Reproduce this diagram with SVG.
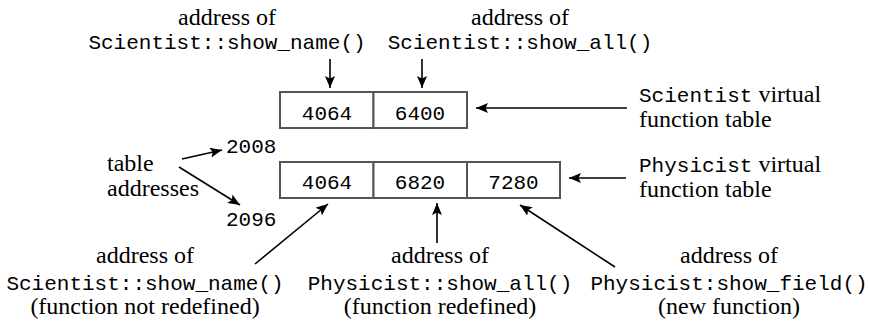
<svg xmlns="http://www.w3.org/2000/svg" width="869" height="322" viewBox="0 0 869 322">
  <style>
    .serif { font-family: "Liberation Serif", "Times New Roman", serif; font-size: 24px; fill: #000; }
    .mono { font-family: "Liberation Mono", "Courier New", monospace; font-size: 21px; fill: #000; }
    .mid { text-anchor: middle; }
    .cell { fill: #fff; stroke: #555; stroke-width: 2; }
    .conn { stroke: #000; stroke-width: 1.6; fill: none; marker-end: url(#arrow); }
  </style>
  <defs>
    <marker id="arrow" viewBox="0 0 12 10" refX="12" refY="5" markerWidth="12" markerHeight="10" markerUnits="userSpaceOnUse" orient="auto">
      <path d="M0,0 L12,5 L0,10 L2.5,5 z" fill="#000"/>
    </marker>
  </defs>

  <g id="label-sci-show-name-top">
    <text class="serif mid" x="227" y="25">address of</text>
    <text class="mono mid" x="227" y="49">Scientist::show_name()</text>
  </g>
  <g id="label-sci-show-all-top">
    <text class="serif mid" x="520" y="25">address of</text>
    <text class="mono mid" x="520" y="49">Scientist::show_all()</text>
  </g>

  <g id="table-scientist">
    <rect class="cell" x="280" y="92" width="93.5" height="36"/>
    <rect class="cell" x="373.5" y="92" width="93.5" height="36"/>
    <text class="mono mid" x="327" y="120">4064</text>
    <text class="mono mid" x="420" y="120">6400</text>
  </g>

  <g id="label-scientist-vtable">
    <text x="639" y="102"><tspan class="mono">Scientist</tspan><tspan class="serif"> virtual</tspan></text>
    <text class="serif" x="639" y="127">function table</text>
  </g>

  <g id="label-table-addresses">
    <text class="serif" x="107" y="171">table</text>
    <text class="serif" x="107" y="196">addresses</text>
  </g>
  <g id="addr-2008">
    <text class="mono" x="226" y="153">2008</text>
  </g>
  <g id="addr-2096">
    <text class="mono" x="226" y="226">2096</text>
  </g>

  <g id="table-physicist">
    <rect class="cell" x="280" y="162" width="93.5" height="36"/>
    <rect class="cell" x="373.5" y="162" width="93.5" height="36"/>
    <rect class="cell" x="467" y="162" width="93" height="36"/>
    <text class="mono mid" x="327" y="189">4064</text>
    <text class="mono mid" x="420" y="189">6820</text>
    <text class="mono mid" x="513.5" y="189">7280</text>
  </g>

  <g id="label-physicist-vtable">
    <text x="639" y="172"><tspan class="mono">Physicist</tspan><tspan class="serif"> virtual</tspan></text>
    <text class="serif" x="639" y="197">function table</text>
  </g>

  <g id="label-sci-show-name-bottom">
    <text class="serif mid" x="145" y="263">address of</text>
    <text class="mono mid" x="145" y="290">Scientist::show_name()</text>
    <text class="serif mid" x="145" y="314">(function not redefined)</text>
  </g>
  <g id="label-phy-show-all">
    <text class="serif mid" x="440" y="263">address of</text>
    <text class="mono mid" x="440" y="290">Physicist::show_all()</text>
    <text class="serif mid" x="440" y="314">(function redefined)</text>
  </g>
  <g id="label-phy-show-field">
    <text class="serif mid" x="729" y="263">address of</text>
    <text class="mono mid" x="729" y="290">Physicist:show_field()</text>
    <text class="serif mid" x="729" y="314">(new function)</text>
  </g>

  <g id="connectors">
    <line class="conn" x1="330" y1="59" x2="330" y2="88"/>
    <line class="conn" x1="422" y1="59" x2="422" y2="88"/>
    <line class="conn" x1="627" y1="108" x2="476" y2="108"/>
    <line class="conn" x1="626" y1="178" x2="569" y2="178"/>
    <line class="conn" x1="182" y1="159" x2="222" y2="150"/>
    <line class="conn" x1="179" y1="167" x2="240" y2="205"/>
    <line class="conn" x1="255" y1="264" x2="328" y2="204"/>
    <line class="conn" x1="437" y1="243" x2="437" y2="203"/>
    <line class="conn" x1="615" y1="267" x2="520" y2="205"/>
  </g>
</svg>
